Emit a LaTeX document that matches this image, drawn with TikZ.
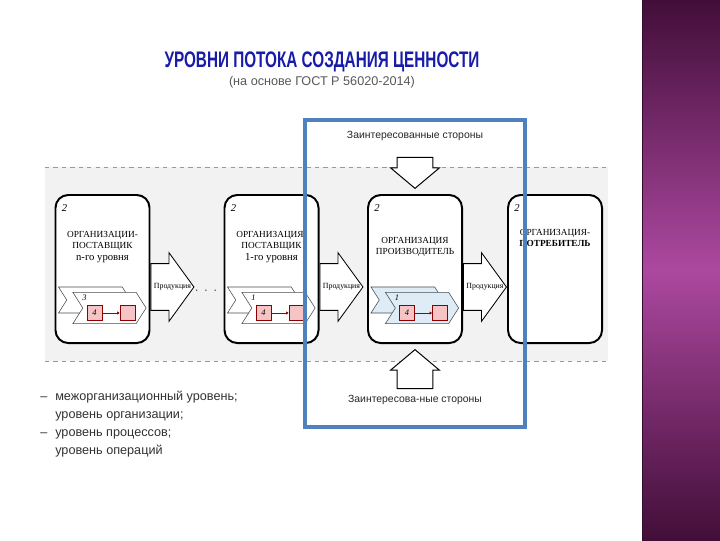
\documentclass[tikz,border=0pt]{standalone}
\usepackage{fontspec}
\setmainfont{Liberation Sans}
\newfontfamily\boxfont{Liberation Serif}
\usetikzlibrary{arrows.meta, positioning, shapes.arrows, shapes.symbols}
\usepackage{xcolor}
\usepackage{graphicx}
\definecolor{titleblue}{RGB}{24,28,168}
\definecolor{frameblue}{RGB}{79,129,189}
\definecolor{plumdark}{RGB}{66,14,56}
\definecolor{plumlight}{RGB}{172,72,160}
\definecolor{bandgray}{RGB}{242,242,242}
\definecolor{procblue}{RGB}{222,236,248}
\definecolor{oppink}{RGB}{246,196,196}
\def\boxwidth{2.35cm}
\def\boxheight{3.7cm}
\def\dashsep{0.375cm}

\begin{document}
\begin{tikzpicture}[x=0.025cm, y=-0.025cm]
    \tikzstyle{org box}=[draw=black, line width=1.4pt, rounded corners=0.32cm, fill=white, minimum width=\boxwidth, minimum height=\boxheight, inner sep=0pt]
    \tikzstyle{org text}=[font=\boxfont\fontsize{6.6}{8.2}\selectfont, align=center, anchor=north, inner sep=0pt]
    \tikzstyle{num}=[font=\boxfont\itshape\fontsize{7.5}{8}\selectfont, inner sep=0pt]
    \tikzstyle{proc back}=[signal, signal from=west, signal to=east, signal pointer angle=115, draw=black!70, line width=0.4pt, minimum width=1.8cm, minimum height=0.65cm, inner sep=0pt]
    \tikzstyle{proc front}=[proc back, minimum width=1.83cm, minimum height=0.78cm]
    \tikzstyle{lvl}=[font=\boxfont\itshape\fontsize{6}{7}\selectfont, inner sep=0pt]
    \tikzstyle{op box}=[draw=red!55!black, line width=0.4pt, fill=oppink, minimum size=0.37cm, inner sep=0pt, font=\boxfont\itshape\fontsize{6}{7}\selectfont]
    \tikzstyle{op arrow}=[-{Latex[length=2pt,width=2.5pt]}, red!60!black, line width=0.6pt]
    \tikzstyle{prod arrow}=[single arrow, draw=black, line width=0.6pt, fill=white, minimum height=1.075cm, single arrow head extend=0.275cm, single arrow tip angle=108, inner xsep=0pt, inner ysep=16.3pt, text height=0pt, text depth=0pt]
    \tikzstyle{prod text}=[font=\boxfont\fontsize{5.6}{6}\selectfont, inner sep=0pt]
    \tikzstyle{stake arrow}=[single arrow, draw=black, line width=0.7pt, fill=white, single arrow head extend=0.16cm, single arrow tip angle=100, inner xsep=12.4pt, inner ysep=0pt, text height=0pt, text depth=0pt]
    \tikzstyle{stake text}=[font=\fontsize{7.4}{8}\selectfont, text=black!85, inner sep=0pt]

    \useasboundingbox (0,0) rectangle (720,540);
    \fill[white] (0,0) rectangle (720,540);

    % Draw the side band
    \shade[top color=plumdark, bottom color=plumdark, middle color=plumlight] (642,0) rectangle (720,540);
    \draw[plumdark!80!black, line width=1pt] (642.5,0) -- (642.5,540);

    % Title
    \node[font=\bfseries\fontsize{16}{18}\selectfont, text=titleblue] (title) at (322,62) {\scalebox{0.68}[1]{УРОВНИ ПОТОКА СОЗДАНИЯ ЦЕННОСТИ}};
    \node[font=\fontsize{9}{10}\selectfont, text=black!65] (subtitle) at (322,82) {(на основе ГОСТ Р 56020-2014)};

    % Draw the gray band
    \fill[bandgray] (45,167) rectangle (608,361);
    \draw[black!40, dashed, line width=0.5pt] (45,167) -- (608,167);
    \draw[black!40, dashed, line width=0.5pt] (45,361) -- (608,361);

    % Draw the organisation boxes
    \foreach \name/\x in {1/102.5, 2/271.5, 3/415, 4/555}
        \node[org box] (org-\name) at (\x,269) {};
    \foreach \name in {1,...,4}
        \node[num] (num-\name) at ([shift={(10,14)}]org-\name.north west) {2};

    \node[org text] (txt-1) at ([shift={(0,37)}]org-1.north) {ОРГАНИЗАЦИИ-\\ПОСТАВЩИК\\{\fontsize{7.6}{9}\selectfont n-го уровня}};
    \node[org text] (txt-2) at ([shift={(0,37)}]org-2.north) {ОРГАНИЗАЦИЯ-\\ПОСТАВЩИК\\{\fontsize{7.6}{9}\selectfont 1-го уровня}};
    \node[org text] (txt-3) at ([shift={(0,43)}]org-3.north) {ОРГАНИЗАЦИЯ\\ПРОИЗВОДИТЕЛЬ};
    \node[org text] (txt-4) at ([shift={(0,35)}]org-4.north) {ОРГАНИЗАЦИЯ-\\\textbf{ПОТРЕБИТЕЛЬ}};

    % Draw the process level inside the boxes
    \foreach \name/\lvl/\tone in {1/3/white, 2/1/white, 3/1/procblue} {
        \node[proc back, fill=\tone] (back-\name) at ([shift={(-8,31)}]org-\name) {};
        \node[proc front, fill=\tone] (front-\name) at ([shift={(7,39)}]org-\name) {};
        \node[lvl] (lvl-\name) at ([shift={(-18,29)}]org-\name) {\lvl};
        \node[op box] (opa-\name) at ([shift={(-8,44)}]org-\name) {4};
        \node[op box] (opb-\name) at ([shift={(25,44)}]org-\name) {};
        \draw[op arrow] (opa-\name) -- (opb-\name);
    }

    % Connect the boxes with the product arrows
    \foreach \name in {1,2,3} {
        \node[prod arrow, anchor=tail] (prod-\name) at ([shift={(0,18)}]org-\name.east) {};
        \path (prod-\name.tail) -- node[prod text] {Продукция} (prod-\name.tip);
    }
    \node[font=\fontsize{8}{8}\selectfont] (dots) at (206,291) {$\cdot\;\cdot\;\cdot$};

    % Stakeholders around the producer
    \node[stake arrow, shape border rotate=270, minimum height=0.775cm, anchor=tip] (stake-in) at ([shift={(0,-5)}]org-3.north) {};
    \node[stake arrow, shape border rotate=90, minimum height=0.975cm, anchor=tip] (stake-out) at ([shift={(0,5)}]org-3.south) {};
    \node[stake text, above=0.4cm of stake-in.tail] (stake-top) {Заинтересованные стороны};
    \node[stake text, below=0.15cm of stake-out.tail] (stake-bot) {Заинтересова-ные стороны};

    % Highlight frame
    \draw[frameblue, line width=2.2pt] (305,120) rectangle (525,427);

    % Levels list
    \node[font=\fontsize{9}{12.8}\selectfont, text=black!80, align=left, anchor=north west, inner sep=0pt] (levels) at (40,391)
        {\makebox[\dashsep][l]{–}межорганизационный уровень;\\\hspace*{\dashsep}уровень организации;\\\makebox[\dashsep][l]{–}уровень процессов;\\\hspace*{\dashsep}уровень операций};
\end{tikzpicture}
\end{document}
